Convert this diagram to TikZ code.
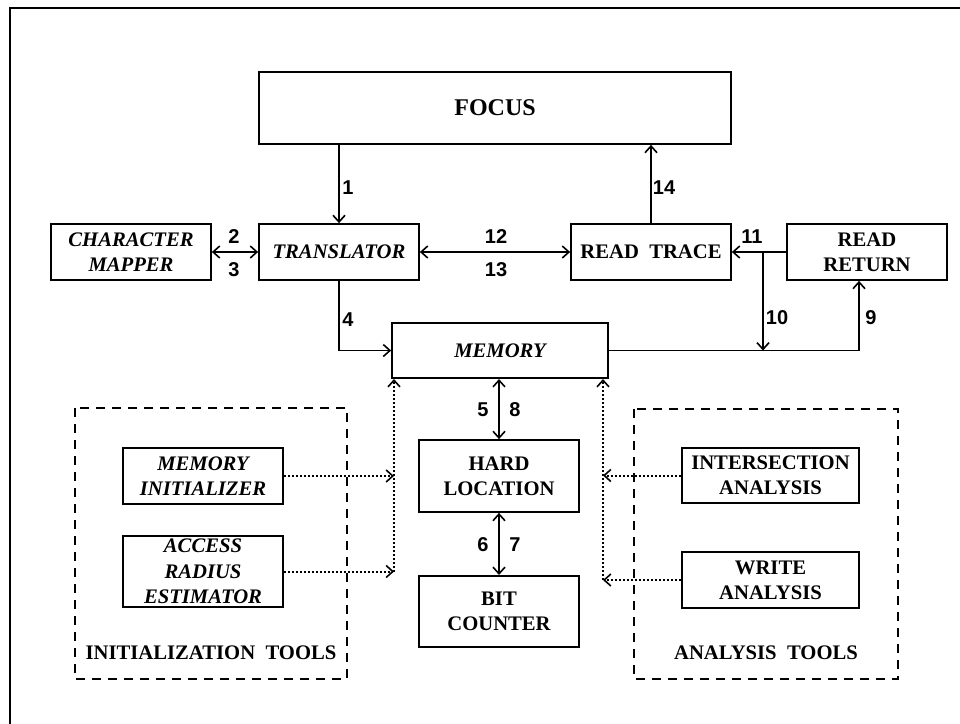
\documentclass[tikz,border=0pt]{standalone}
\usepackage{fontspec}
\setmainfont{Liberation Serif}
\newfontfamily\numfont{Liberation Sans}
\usetikzlibrary{arrows.meta}

\begin{document}
\begin{tikzpicture}[x=0.75pt, y=-0.75pt,
    box/.style={draw, line width=1.3pt, inner sep=0pt, align=center,
        minimum width=120pt, minimum height=42pt,
        font=\fontsize{15.5}{19}\selectfont\bfseries},
    ibox/.style={box, font=\fontsize{15.5}{19}\selectfont\bfseries\itshape},
    numlabel/.style={inner sep=0pt, font=\fontsize{15}{15}\selectfont\numfont\bfseries},
    tip/.tip={Straight Barb[length=5pt, width=9pt, line width=1.2pt]},
    flow/.style={draw, line width=1.1pt, -tip},
    twoway/.style={draw, line width=1.1pt, tip-tip},
    feed/.style={draw, line width=1.5pt, dash pattern=on 1.3pt off 1.7pt, -tip},
    toolgroup/.style={draw, line width=1.1pt, dash pattern=on 7pt off 5pt}]
    \useasboundingbox (0,0) rectangle (960,724);

    % frame
    \path[draw, line width=2pt](10,730)to(10,8)to(966,8);

    % tool groups
    \path[toolgroup](75,408)rectangle(347,679);
    \path[toolgroup](634,409)rectangle(898,679);
    \node[font=\fontsize{15.5}{19}\selectfont\bfseries] (inittools) at (211,653) {INITIALIZATION\ \ TOOLS};
    \node[font=\fontsize{15.5}{19}\selectfont\bfseries] (anatools) at (766,653) {ANALYSIS\ \ TOOLS};

    % boxes
    \node[box, minimum width=354pt, minimum height=54pt, font=\fontsize{18}{22}\selectfont\bfseries] (focus) at (495,108) {FOCUS};
    \node[ibox] (mapper) at (131,252) {CHARACTER\\MAPPER};
    \node[ibox] (translator) at (339,252) {TRANSLATOR};
    \node[box] (readtrace) at (651,252) {READ\ \ TRACE};
    \node[box] (readreturn) at (867,252) {READ\\RETURN};
    \node[ibox, minimum width=162pt, minimum height=41.5pt] (memory) at (500,350.5) {MEMORY};
    \node[box, minimum height=54pt] (hardloc) at (499,476) {HARD\\LOCATION};
    \node[box, minimum height=53.5pt] (bitcounter) at (499,611.5) {BIT\\COUNTER};
    \node[ibox] (meminit) at (203,476) {MEMORY\\INITIALIZER};
    \node[ibox, minimum height=53.5pt] (accrad) at (203,571.5) {ACCESS\\RADIUS\\ESTIMATOR};
    \node[box, minimum width=133pt, minimum height=41.5pt] (interanal) at (770.5,475.5) {INTERSECTION\\ANALYSIS};
    \node[box, minimum width=133pt] (writeanal) at (770.5,580) {WRITE\\ANALYSIS};

    % helper points
    \coordinate (split) at (763,252);
    \coordinate (bend9) at (859,0);
    \coordinate (lbus) at (394,0);
    \coordinate (rbus) at (603,0);

    % main flow
    \path[flow](focus.south -| translator)to(translator.north);
    \path[flow](readtrace.north)to(readtrace.north |- focus.south);
    \path[twoway](mapper)to(translator);
    \path[twoway](translator)to(readtrace);
    \path[flow](readreturn)to(readtrace);
    \path[flow](split)to(split |- memory.east);
    \path[flow](translator.south)|-(memory.west);
    \path[flow](memory.east)-|(bend9 |- readreturn.south);
    \path[twoway](hardloc.north |- memory.south)to(hardloc.north);
    \path[twoway](hardloc.south)to(bitcounter.north);

    % tools
    \path[feed](lbus |- accrad.east)to(lbus |- memory.south);
    \path[feed](meminit.east)to(meminit.east -| lbus);
    \path[feed](accrad.east)to(accrad.east -| lbus);
    \path[feed](rbus |- writeanal.west)to(rbus |- memory.south);
    \path[feed](interanal.west)to(interanal.west -| rbus);
    \path[feed](writeanal.west)to(writeanal.west -| rbus);

    % numbers
    \node[numlabel] (n1) at (348,188) {1};
    \node[numlabel] (n2) at (234,237) {2};
    \node[numlabel] (n3) at (234,270) {3};
    \node[numlabel] (n4) at (348,320) {4};
    \node[numlabel] (n5) at (483,410) {5};
    \node[numlabel] (n6) at (483,545) {6};
    \node[numlabel] (n7) at (515,545) {7};
    \node[numlabel] (n8) at (515,410) {8};
    \node[numlabel] (n9) at (871,318) {9};
    \node[numlabel] (n10) at (777,318) {10};
    \node[numlabel] (n11) at (752,237) {11};
    \node[numlabel] (n12) at (496,237) {12};
    \node[numlabel] (n13) at (496,270) {13};
    \node[numlabel] (n14) at (664,188) {14};
\end{tikzpicture}
\end{document}
